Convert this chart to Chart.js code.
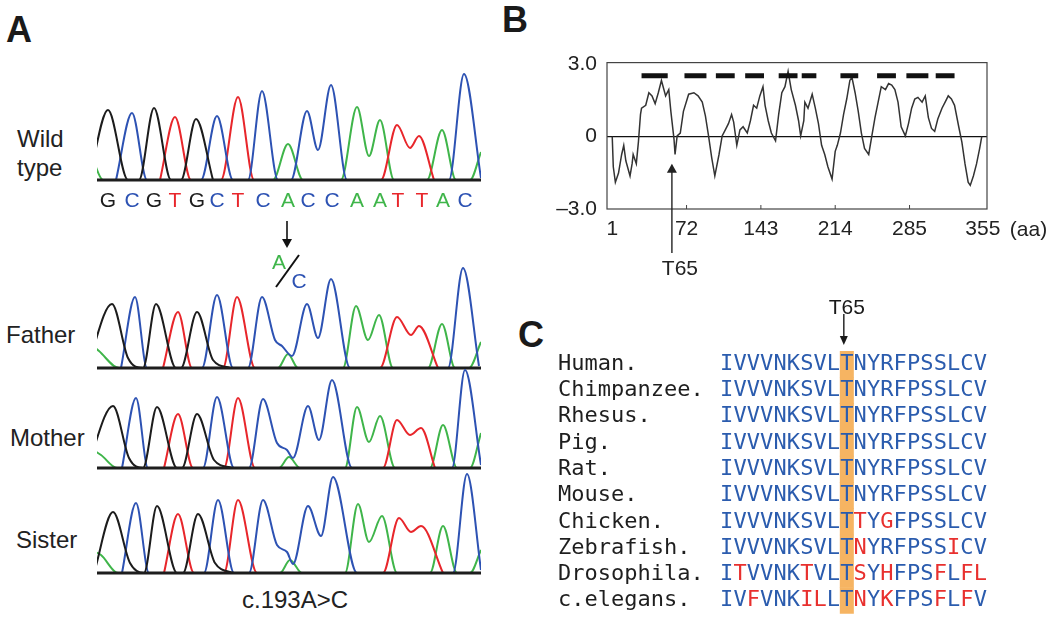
<!DOCTYPE html>
<html>
<head>
<meta charset="utf-8">
<script src="https://cdn.jsdelivr.net/npm/chart.js"></script>
<style>
  body { margin: 0; background: #fff; }
  #fig { position: relative; width: 1050px; height: 627px; overflow: hidden;
         font-family: "Liberation Sans", Arial, sans-serif; color: #222; }
  .box { position: absolute; }
  .lbl { position: absolute; line-height: 1; white-space: nowrap; font-size: 24px; }
  .panel { font-weight: bold; font-size: 36px; color: #1a1a1a; }
</style>
</head>
<body>
<div id="fig">
  <div class="lbl panel" style="left:6px;top:12px">A</div>
  <div class="lbl panel" style="left:502px;top:2px">B</div>
  <div class="lbl panel" style="left:518px;top:317px">C</div>

  <div class="lbl" style="left:17px;top:124px;line-height:29px">Wild<br>type</div>
  <div class="lbl" style="left:6px;top:323px">Father</div>
  <div class="lbl" style="left:10px;top:426px">Mother</div>
  <div class="lbl" style="left:16px;top:528px">Sister</div>
  <div class="lbl" style="left:242px;top:588px">c.193A&gt;C</div>

  <div class="box" style="left:97px;top:60px;width:384px;height:150px"><canvas id="wt"></canvas></div>
  <div class="box" style="left:97px;top:215px;width:384px;height:155px"><canvas id="father"></canvas></div>
  <div class="box" style="left:97px;top:355px;width:384px;height:115px"><canvas id="mother"></canvas></div>
  <div class="box" style="left:97px;top:460px;width:384px;height:115px"><canvas id="sister"></canvas></div>

  <div class="box" style="left:545px;top:40px;width:505px;height:245px"><canvas id="hydro"></canvas></div>
  <div class="box" style="left:540px;top:290px;width:460px;height:337px"><canvas id="align"></canvas></div>
</div>

<script>
// ---- panel A: sequencing traces, [scan, signal] ----
const wtBases = 'GCGTGCTCACCAATTAC';
const wtCallScan = [11, 35, 57, 78, 100, 120, 141, 166, 191, 211, 235, 260, 283, 301, 325, 346, 368];
const mutScan = 191;

const wtG = [[-8,0],[11,70],[31,0],[42,0],[57,72],[74,0],[84,0],[99,61],[116,0]];
const wtC = [[19,0],[35,67],[50,0],[104,0],[120,64],[136,0],[151,0],[165,89],[181,0],[194,0],[210,69],[221,30],[234,95],[250,0],[352,0],[367,106],[384,2]];
const wtT = [[63,0],[78,63],[94,0],[124,0],[141,83],[157,0],[284,0],[300,55],[313,32],[322,44],[337,0]];
const wtA = [[-4,20],[6,0],[176,0],[191,36],[206,0],[244,0],[260,73],[272,24],[283,60],[297,0],[330,0],[345,50],[359,0],[373,0],[384,28]];

const faG = [[-10,0],[15,64],[31,10],[46,0],[59,64],[79,0],[84,0],[100,56],[116,8],[133,0]];
const faC = [[24,0],[38,71],[50,0],[105,0],[120,73],[136,0],[151,0],[165,71],[178,28],[185,22],[195,12],[210,64],[221,30],[234,89],[253,0],[351,0],[366,100],[382,2]];
const faT = [[66,0],[81,56],[95,0],[126,0],[140,71],[158,0],[283,0],[300,51],[314,33],[322,42],[341,0]];
const faA = [[-4,22],[2,17],[22,0],[181,0],[191,14],[201,0],[246,0],[259,62],[271,28],[282,53],[296,0],[331,0],[345,44],[358,0],[372,0],[384,26]];

const moG = [[-10,0],[16,62],[32,10],[46,0],[60,61],[80,0],[85,0],[100,54],[117,8],[135,0]];
const moC = [[25,0],[39,70],[51,0],[106,0],[120,71],[137,0],[152,0],[166,69],[180,25],[190,18],[196,10],[211,62],[222,28],[235,88],[255,0],[355,0],[368,98],[384,3]];
const moT = [[67,0],[81,54],[96,0],[127,0],[141,70],[158,0],[286,0],[300,48],[313,33],[324,40],[338,0]];
const moA = [[-4,18],[4,13],[20,0],[182,0],[192,11],[203,0],[248,0],[260,61],[272,26],[283,52],[298,0],[333,0],[346,43],[360,0],[373,0],[384,35]];

const siG = [[-3,0],[16,61],[33,10],[47,0],[60,67],[80,0],[86,0],[101,59],[118,10],[136,0]];
const siC = [[25,0],[39,70],[52,0],[107,0],[121,73],[137,0],[152,0],[166,73],[180,28],[190,21],[196,9],[211,67],[224,37],[236,96],[260,0],[356,0],[370,99],[384,3]];
const siT = [[67,0],[81,59],[97,0],[127,0],[141,73],[160,0],[286,0],[302,55],[314,41],[324,47],[346,0]];
const siA = [[-4,22],[4,18],[21,0],[183,0],[193,13],[205,0],[248,0],[261,69],[272,31],[285,57],[300,0],[333,0],[346,47],[360,0],[373,0],[384,23]];

// ---- panel B: hydropathy profile ----
const hpAa = [1,2,4,7,10,12,14,18,20,21,24,26,28,29,33,36,39,42,45,48,52,55,57,60,61,63,66,69,74,79,83,87,90,93,96,99,
  103,106,109,112,115,117,120,123,126,130,133,136,139,142,145,147,150,153,157,160,163,166,169,172,176,179,181,184,185,
  188,192,195,198,201,204,207,211,214,216,219,222,225,228,230,233,236,239,242,246,249,252,255,258,262,265,268,271,274,
  277,281,284,287,290,293,297,300,303,306,309,312,316,319,322,325,328,332,335,338,341,343,346,349,352,354];
const hpVal = [0,-1.25,-1.89,-1.51,-0.74,-0.36,-1.0,-1.63,-1.12,-0.74,-1.12,-0.23,0.92,1.18,1.30,1.82,1.69,1.37,1.82,2.33,
  1.69,1.95,1.05,-0.10,-0.74,0.03,0.15,1.05,1.76,1.82,1.69,1.43,0.86,0.03,-0.87,-1.63,
  -0.74,0.03,0.28,0.54,0.92,0.60,-0.36,0.28,0.41,0.15,0.66,1.30,1.18,1.69,2.07,1.30,0.66,0.15,-0.17,0.92,1.82,2.07,2.71,
  1.95,1.30,0.66,0.03,0.66,1.43,1.18,1.76,1.18,0.54,-0.36,-0.74,-1.25,-1.76,-0.61,-0.36,0.15,0.92,1.56,2.33,2.46,1.82,
  1.05,0.15,-0.49,-0.74,0.03,0.79,1.43,2.07,1.95,2.20,2.14,1.95,1.43,0.41,0.03,0.54,1.18,1.56,1.63,1.43,1.69,0.79,0.34,
  0.22,0.73,1.18,1.43,1.69,1.56,1.30,0.41,-0.23,-1.13,-1.89,-2.02,-1.63,-1.13,-0.49,0];
const tmStart = [29, 70, 100, 128, 160, 182, 219, 254, 282, 310];
const tmEnd   = [54, 91, 118, 146, 178, 196, 236, 272, 303, 328];
const tmLevel = 2.52;
const xTicks = [1, 72, 143, 214, 285, 355];
const yTicks = [-3, 0, 3];
const t65Aa = 58, t65Tip = -1.12;

// ---- panel C: alignment ----
const species = ['Human.', 'Chimpanzee.', 'Rhesus.', 'Pig.', 'Rat.', 'Mouse.',
                 'Chicken.', 'Zebrafish.', 'Drosophila.', 'c.elegans.'];
const sequences = [
  'IVVVNKSVLTNYRFPSSLCV', 'IVVVNKSVLTNYRFPSSLCV', 'IVVVNKSVLTNYRFPSSLCV', 'IVVVNKSVLTNYRFPSSLCV',
  'IVVVNKSVLTNYRFPSSLCV', 'IVVVNKSVLTNYRFPSSLCV', 'IVVVNKSVLTTYGFPSSLCV', 'IVVVNKSVLTNYRFPSSICV',
  'ITVVNKTVLTSYHFPSFLFL', 'IVFVNKILLTNYKFPSFLFV'];
const redMask = [
  '00000000000000000000', '00000000000000000000', '00000000000000000000', '00000000000000000000',
  '00000000000000000000', '00000000000000000000', '00000000001010000000', '00000000001000000100',
  '01000010001010001011', '00100011001010001010'];
const t65Col = 9;

const FONT = '"Liberation Sans", Arial, sans-serif';
const MONO = '"DejaVu Sans Mono", monospace';
const baseColor = {G: '#1c1c1c', C: '#2d52b3', T: '#e8262b', A: '#3fb54a'};
const SEQ_BLUE = '#2b5cae', SEQ_RED = '#e8302e';

Chart.defaults.font.family = FONT;
Chart.defaults.color = '#222';

const baselinePlugin = {
  id: 'baseline',
  afterDatasetsDraw(chart) {
    const {ctx, chartArea: a, scales: {y}} = chart;
    const yy = y.getPixelForValue(0);
    ctx.save();
    ctx.strokeStyle = '#1d1d1d';
    ctx.lineWidth = 3;
    ctx.beginPath();
    ctx.moveTo(a.left, yy);
    ctx.lineTo(a.right, yy);
    ctx.stroke();
    ctx.restore();
  }
};

function traceChart(id, g, c, t, a, yMax, pad, extra) {
  const sets = [[g, baseColor.G], [c, baseColor.C], [t, baseColor.T], [a, baseColor.A]];
  return new Chart(document.getElementById(id), {
    type: 'line',
    data: {
      datasets: sets.map(([pts, col]) => ({
        data: pts.map(p => ({x: p[0], y: p[1]})),
        borderColor: col,
        borderWidth: 2,
        pointRadius: 0,
        fill: false,
        cubicInterpolationMode: 'monotone'
      }))
    },
    options: {
      responsive: true, maintainAspectRatio: false, animation: false,
      layout: {padding: pad},
      plugins: {legend: {display: false}, tooltip: {enabled: false}},
      scales: {
        x: {type: 'linear', min: 0, max: 384, display: false},
        y: {min: 0, max: yMax, display: false}
      }
    },
    plugins: [baselinePlugin].concat(extra || [])
  });
}

// base calls under the wild type trace
const callsPlugin = {
  id: 'calls',
  afterDraw(chart) {
    const {ctx, chartArea: a, scales: {x}} = chart;
    ctx.save();
    ctx.font = '21px ' + FONT;
    ctx.textAlign = 'center';
    ctx.textBaseline = 'alphabetic';
    for (let i = 0; i < wtBases.length; i++) {
      ctx.fillStyle = baseColor[wtBases[i]];
      ctx.fillText(wtBases[i], x.getPixelForValue(wtCallScan[i]), a.bottom + 27);
    }
    ctx.restore();
  }
};

// arrow and A/C mark above the father trace
const mutPlugin = {
  id: 'mut',
  afterDraw(chart) {
    const {ctx, scales: {x}} = chart;
    const px = x.getPixelForValue(mutScan) - 1;
    ctx.save();
    ctx.strokeStyle = '#111';
    ctx.fillStyle = '#111';
    ctx.lineWidth = 1.6;
    ctx.beginPath(); ctx.moveTo(px, 6); ctx.lineTo(px, 26); ctx.stroke();
    ctx.beginPath(); ctx.moveTo(px - 5, 24); ctx.lineTo(px + 5, 24); ctx.lineTo(px, 33); ctx.closePath(); ctx.fill();
    ctx.lineWidth = 2;
    ctx.beginPath(); ctx.moveTo(px - 11, 72); ctx.lineTo(px + 12, 40); ctx.stroke();
    ctx.font = '21px ' + FONT;
    ctx.textAlign = 'center';
    ctx.fillStyle = baseColor.A;
    ctx.fillText('A', px - 8, 54);
    ctx.fillStyle = baseColor.C;
    ctx.fillText('C', px + 12, 73);
    ctx.restore();
  }
};

traceChart('wt', wtG, wtC, wtT, wtA, 120, {top: 0, bottom: 30, left: 0, right: 0}, [callsPlugin]);
traceChart('father', faG, faC, faT, faA, 110, {top: 43, bottom: 2, left: 0, right: 0}, [mutPlugin]);
traceChart('mother', moG, moC, moT, moA, 113, {top: 0, bottom: 2, left: 0, right: 0});
traceChart('sister', siG, siC, siT, siA, 113, {top: 0, bottom: 2, left: 0, right: 0});

// ---- panel B ----
const tmData = [];
tmStart.forEach((s, i) => {
  tmData.push({x: s, y: tmLevel}, {x: tmEnd[i], y: tmLevel}, {x: tmEnd[i] + 1, y: null});
});

const hydroPlugin = {
  id: 'hydroDeco',
  afterDraw(chart) {
    const {ctx, chartArea: a, scales: {x, y}} = chart;
    ctx.save();
    ctx.strokeStyle = '#444';
    ctx.lineWidth = 1.2;
    ctx.strokeRect(a.left, a.top, a.right - a.left, a.bottom - a.top);
    ctx.lineWidth = 1;
    xTicks.slice(1, -1).forEach(v => {
      const px = x.getPixelForValue(v);
      ctx.beginPath(); ctx.moveTo(px, a.bottom); ctx.lineTo(px, a.bottom - 4); ctx.stroke();
    });
    // "(aa)" unit
    ctx.fillStyle = '#222';
    ctx.font = '21px ' + FONT;
    ctx.textAlign = 'left';
    ctx.textBaseline = 'middle';
    ctx.fillText('(aa)', x.getPixelForValue(355) + 27, a.bottom + 21);
    // T65 arrow
    const ax = x.getPixelForValue(t65Aa);
    const tip = y.getPixelForValue(t65Tip);
    ctx.strokeStyle = '#222';
    ctx.fillStyle = '#222';
    ctx.lineWidth = 1.4;
    ctx.beginPath(); ctx.moveTo(ax, a.bottom + 44); ctx.lineTo(ax, tip + 6); ctx.stroke();
    ctx.beginPath(); ctx.moveTo(ax - 5, tip + 9); ctx.lineTo(ax + 5, tip + 9); ctx.lineTo(ax, tip); ctx.closePath(); ctx.fill();
    ctx.textAlign = 'center';
    ctx.textBaseline = 'alphabetic';
    ctx.fillText('T65', ax + 8, a.bottom + 66);
    ctx.restore();
  }
};

new Chart(document.getElementById('hydro'), {
  type: 'line',
  data: {
    datasets: [
      {data: tmData, borderColor: '#111', borderWidth: 5, pointRadius: 0, spanGaps: false, borderCapStyle: 'butt'},
      {data: hpAa.map((v, i) => ({x: v, y: hpVal[i]})), borderColor: '#333', borderWidth: 1.5, pointRadius: 0, tension: 0},
      {data: [{x: -4, y: 0}, {x: 359, y: 0}], borderColor: '#111', borderWidth: 1.2, pointRadius: 0}
    ]
  },
  options: {
    responsive: true, maintainAspectRatio: false, animation: false,
    layout: {padding: {top: 11, right: 63, left: 0, bottom: 0}},
    plugins: {legend: {display: false}, tooltip: {enabled: false}},
    scales: {
      x: {
        type: 'linear', min: -4, max: 359,
        afterBuildTicks: s => { s.ticks = xTicks.map(v => ({value: v})); },
        afterFit: s => { s.height = 76; },
        grid: {display: false, drawTicks: false},
        border: {display: false},
        ticks: {padding: 8, autoSkip: false, maxRotation: 0, font: {size: 21}, color: '#222',
                callback: v => String(v)}
      },
      y: {
        min: -3, max: 3.07,
        afterBuildTicks: s => { s.ticks = yTicks.map(v => ({value: v})); },
        afterFit: s => { s.width = 62; },
        grid: {display: false, drawTicks: false},
        border: {display: false},
        ticks: {padding: 10, font: {size: 21}, color: '#222',
                callback: v => v === 0 ? '0' : (v < 0 ? '\u2013' : '') + Math.abs(v).toFixed(1)}
      }
    }
  },
  plugins: [hydroPlugin]
});

// ---- panel C ----
const alignPlugin = {
  id: 'residues',
  afterDatasetsDraw(chart) {
    const {ctx, chartArea: a, scales: {x, y}} = chart;
    ctx.save();
    ctx.font = '22px ' + MONO;
    ctx.textAlign = 'center';
    ctx.textBaseline = 'middle';
    sequences.forEach((seq, r) => {
      const yy = y.getPixelForValue(r);
      for (let c = 0; c < seq.length; c++) {
        ctx.fillStyle = redMask[r][c] === '1' ? SEQ_RED : SEQ_BLUE;
        ctx.fillText(seq[c], x.getPixelForValue(c + 0.5), yy);
      }
    });
    // T65 marker
    const cx = x.getPixelForValue(t65Col + 0.5);
    ctx.fillStyle = '#1a1a1a';
    ctx.strokeStyle = '#1a1a1a';
    ctx.font = '21px ' + FONT;
    ctx.textBaseline = 'alphabetic';
    ctx.fillText('T65', cx, a.top - 37);
    ctx.lineWidth = 1.4;
    ctx.beginPath(); ctx.moveTo(cx - 3, a.top - 37); ctx.lineTo(cx - 3, a.top - 12); ctx.stroke();
    ctx.beginPath(); ctx.moveTo(cx - 7, a.top - 15); ctx.lineTo(cx + 1, a.top - 15); ctx.lineTo(cx - 3, a.top - 6); ctx.closePath(); ctx.fill();
    ctx.restore();
  }
};

new Chart(document.getElementById('align'), {
  type: 'bar',
  data: {
    labels: species,
    datasets: [{
      data: species.map(() => [t65Col, t65Col + 1]),
      backgroundColor: '#f6b462',
      borderWidth: 0,
      barPercentage: 1,
      categoryPercentage: 1
    }]
  },
  options: {
    indexAxis: 'y',
    responsive: true, maintainAspectRatio: false, animation: false,
    layout: {padding: {left: 18, top: 61, right: 13, bottom: 6}},
    plugins: {legend: {display: false}, tooltip: {enabled: false}},
    scales: {
      x: {type: 'linear', min: 0, max: 20, display: false},
      y: {
        type: 'category',
        afterFit: s => { s.width = 162; },
        grid: {display: false, drawTicks: false},
        border: {display: false},
        ticks: {crossAlign: 'far', padding: 0, autoSkip: false, font: {family: MONO, size: 22}, color: '#1e1e1e'}
      }
    }
  },
  plugins: [alignPlugin]
});
</script>
</body>
</html>
